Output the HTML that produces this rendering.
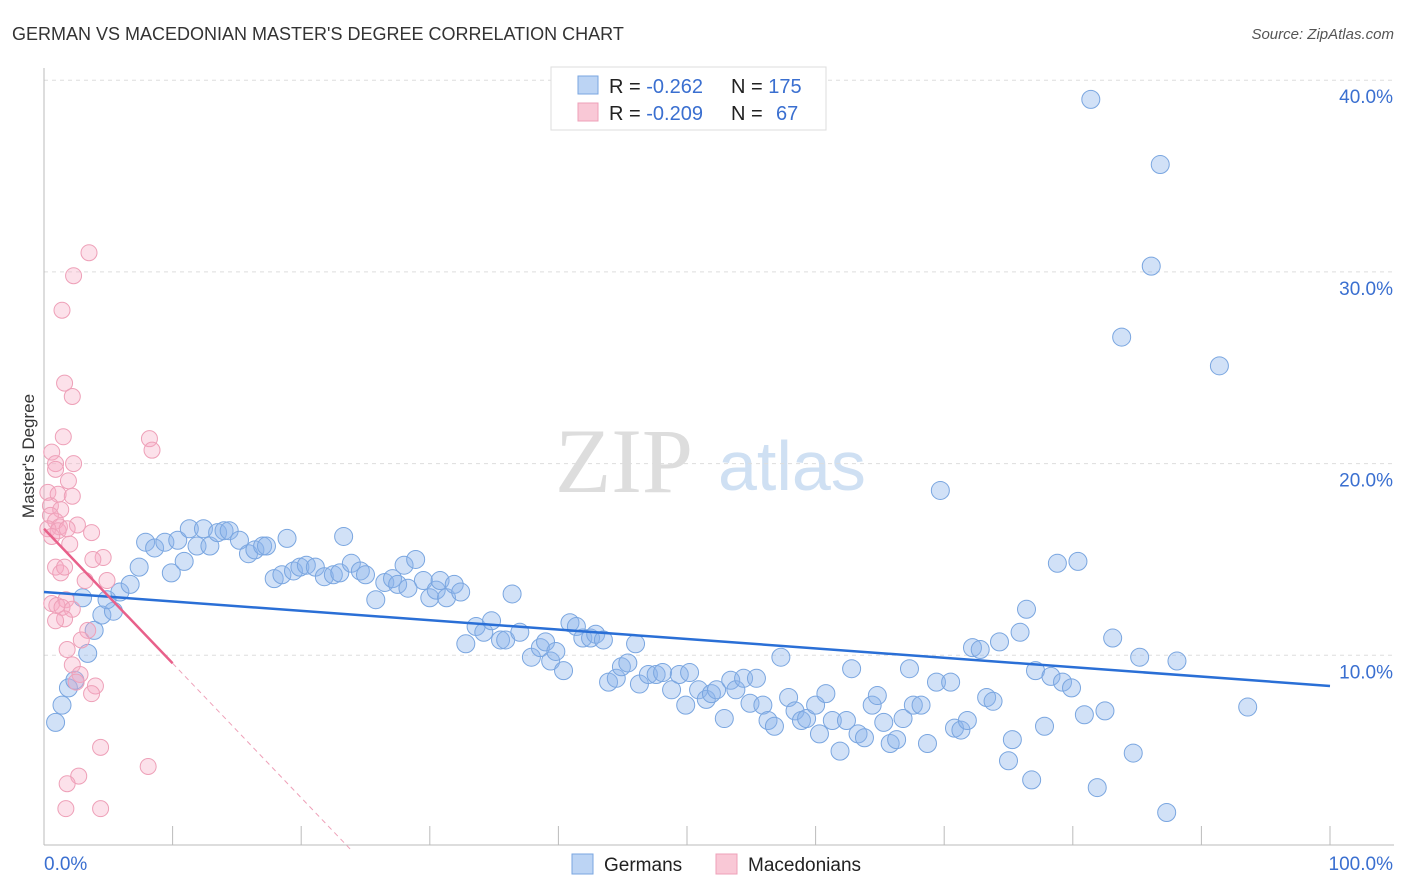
<!DOCTYPE html>
<html><head><meta charset="utf-8">
<style>
body{margin:0;background:#fff;font-family:"Liberation Sans",sans-serif;}
svg{display:block}
</style></head>
<body>
<svg id="chart" width="1406" height="892">
<text x="12" y="40" font-size="18" fill="#333">GERMAN VS MACEDONIAN MASTER'S DEGREE CORRELATION CHART</text>
<text x="1394" y="39" font-size="15" fill="#555" font-style="italic" text-anchor="end">Source: ZipAtlas.com</text>
<g>
<text x="555" y="492" font-size="92" font-family="Liberation Serif,serif" fill="#ddd">ZIP</text>
<text x="718" y="490" font-size="70" fill="#cfe0f3">atlas</text>
</g>
<g id="grid"></g>
<g id="axes"></g>
<text transform="translate(34,456) rotate(-90)" font-size="17" fill="#333" text-anchor="middle">Master's Degree</text>
<g id="pts"></g>
<g id="trend"></g>
<g>
<rect x="551" y="67" width="275" height="63" fill="#fff" stroke="#ddd"/>
<rect x="578" y="76" width="20" height="18" fill="#bcd4f4" stroke="#7aa6e0"/>
<rect x="578" y="103" width="20" height="18" fill="#f9c8d6" stroke="#eea0b8"/>
<text x="609" y="93" font-size="20" fill="#222">R = <tspan fill="#3a6fd0">-0.262</tspan><tspan x="731">N = </tspan><tspan fill="#3a6fd0">175</tspan></text>
<text x="609" y="120" font-size="20" fill="#222">R = <tspan fill="#3a6fd0">-0.209</tspan><tspan x="731">N = </tspan><tspan fill="#3a6fd0" x="776">67</tspan></text>
</g>
<g>
<rect x="572" y="854" width="21" height="20" fill="#bcd4f4" stroke="#7aa6e0"/>
<text x="604" y="871" font-size="19" fill="#222">Germans</text>
<rect x="716" y="854" width="21" height="20" fill="#f9c8d6" stroke="#eea0b8"/>
<text x="748" y="871" font-size="19" fill="#222">Macedonians</text>
</g>
</svg>
<script>
const xTicks=[0,10,20,30,40,50,60,70,80,90,100];
const yTicks=[10,20,30,40];
const yTickLabels=["10.0%","20.0%","30.0%","40.0%"];
const germansX=[81.4,86.8,86.1,83.8,91.4,69.7,0.9,1.4,1.9,2.4,3.4,3.9,4.5,5.4,3.0,4.9,5.9,6.7,7.4,7.9,8.6,9.4,9.9,10.4,10.9,11.3,11.9,12.4,12.9,13.5,14.0,14.4,15.2,15.9,16.4,17.0,17.3,18.9,17.9,18.5,19.4,19.9,20.4,21.1,21.8,22.5,23.0,23.3,23.9,24.6,25.0,25.8,26.5,27.1,27.5,28.0,28.3,28.9,29.5,30.0,30.5,30.8,31.3,31.9,32.4,32.8,33.6,34.2,34.8,35.5,35.9,36.4,37.0,37.9,38.6,39.0,39.4,39.8,40.4,40.9,41.4,41.9,42.5,42.9,43.5,43.9,44.5,44.9,45.4,46.0,46.3,47.0,47.6,48.1,48.8,49.4,49.9,50.2,50.9,51.5,51.9,52.3,52.9,53.4,53.8,54.4,54.9,55.4,55.9,56.3,56.8,57.3,57.9,58.4,58.9,59.3,60.0,60.3,60.8,61.3,61.9,62.4,62.8,63.3,63.8,64.4,64.8,65.3,65.8,66.3,66.8,67.3,67.6,68.2,68.7,69.4,70.5,70.8,71.3,71.8,72.2,72.8,73.3,73.8,74.3,75.0,75.3,75.9,76.4,76.8,77.1,77.8,78.3,78.8,79.2,79.9,80.4,80.9,81.9,82.5,83.1,84.7,85.2,87.3,88.1,93.6];
const germansY=[39.0,35.6,30.3,26.6,25.1,18.6,6.5,7.4,8.3,8.7,10.1,11.3,12.1,12.3,13.0,12.9,13.3,13.7,14.6,15.9,15.6,15.9,14.3,16.0,14.9,16.6,15.7,16.6,15.7,16.4,16.5,16.5,16.0,15.3,15.5,15.7,15.7,16.1,14.0,14.2,14.4,14.6,14.7,14.6,14.1,14.2,14.3,16.2,14.8,14.4,14.2,12.9,13.8,14.0,13.7,14.7,13.5,15.0,13.9,13.0,13.4,13.9,13.0,13.7,13.3,10.6,11.5,11.2,11.8,10.8,10.8,13.2,11.2,9.9,10.4,10.7,9.7,10.2,9.2,11.7,11.5,10.9,10.9,11.1,10.8,8.6,8.8,9.4,9.6,10.6,8.5,9.0,9.0,9.1,8.2,9.0,7.4,9.1,8.2,7.7,8.0,8.2,6.7,8.7,8.2,8.8,7.5,8.8,7.4,6.6,6.3,9.9,7.8,7.1,6.6,6.7,7.4,5.9,8.0,6.6,5.0,6.6,9.3,5.9,5.7,7.4,7.9,6.5,5.4,5.6,6.7,9.3,7.4,7.4,5.4,8.6,8.6,6.2,6.1,6.6,10.4,10.3,7.8,7.6,10.7,4.5,5.6,11.2,12.4,3.5,9.2,6.3,8.9,14.8,8.6,8.3,14.9,6.9,3.1,7.1,10.9,4.9,9.9,1.8,9.7,7.3];
const macedX=[3.5,2.3,1.4,1.6,2.2,1.5,8.2,8.4,0.6,2.3,0.9,0.9,1.9,0.3,1.1,2.2,0.5,1.3,0.5,0.9,1.2,2.6,0.3,1.1,1.8,3.7,0.6,2.0,4.6,3.8,0.9,1.3,1.6,4.9,3.2,1.7,0.6,1.0,1.4,2.2,1.6,0.9,3.4,2.9,1.8,2.2,2.8,2.5,4.0,3.7,4.4,8.1,2.7,1.8,1.7,4.4];
const macedY=[31.0,29.8,28.0,24.2,23.5,21.4,21.3,20.7,20.6,20.0,20.0,19.7,19.1,18.5,18.4,18.3,17.8,17.6,17.3,17.0,16.7,16.8,16.6,16.5,16.6,16.4,16.2,15.8,15.1,15.0,14.6,14.3,14.6,13.9,13.9,12.9,12.7,12.6,12.5,12.4,11.9,11.8,11.3,10.8,10.3,9.5,9.0,8.6,8.4,8.0,5.2,4.2,3.7,3.3,2.0,2.0];
const germanTrend=[13.3,8.4];
const macedTrend=[16.6,-0.1];
const macedSolidEnd=10;
const macedDashEnd=23.8;

const NS="http://www.w3.org/2000/svg";
const X=v=>44+v*12.86;
const Y=v=>847-v*19.17;
function mk(tag,attrs,parent){const e=document.createElementNS(NS,tag);for(const k in attrs)e.setAttribute(k,attrs[k]);parent.appendChild(e);return e;}
const grid=document.getElementById('grid'),axes=document.getElementById('axes'),pts=document.getElementById('pts'),trend=document.getElementById('trend');
yTicks.forEach((t,i)=>{
  const l=mk('line',{x1:44,x2:1394,y1:Y(t),y2:Y(t),stroke:'#ddd','stroke-dasharray':'4,4'},grid);
  
  
  const tx=mk('text',{x:1393,y:Y(t)+23,'font-size':19,fill:'#3a6fd0','text-anchor':'end'},axes);
  tx.textContent=yTickLabels[i];
  
  
});
const ya=mk('line',{x1:44,x2:44,y1:68,y2:845,stroke:'#bbb'},axes);


const xa=mk('line',{x1:44,x2:1394,y1:845,y2:845,stroke:'#bbb'},axes);


xTicks.forEach(t=>{
  const l=mk('line',{x1:X(t),x2:X(t),y1:826,y2:845,stroke:'#bbb'},axes);
  
  
});
const xl0=mk('text',{x:44,y:870,'font-size':19,fill:'#3a6fd0'},axes);xl0.textContent='0.0%';


const xl1=mk('text',{x:1393,y:870,'font-size':19,fill:'#3a6fd0','text-anchor':'end'},axes);xl1.textContent='100.0%';


germansX.forEach((x,i)=>{
  const c=mk('circle',{cx:X(x),cy:Y(germansY[i]),r:9,fill:'rgba(140,180,235,0.4)',stroke:'#7aa6e0','stroke-width':1},pts);
  
  
});
macedX.forEach((x,i)=>{
  const c=mk('circle',{cx:X(x),cy:Y(macedY[i]),r:8,fill:'rgba(245,170,195,0.35)',stroke:'#eea0b8','stroke-width':1},pts);
  
  
});
const gl=mk('line',{x1:X(0),y1:Y(germanTrend[0]),x2:X(100),y2:Y(germanTrend[1]),stroke:'#2a6fd6','stroke-width':2.5},trend);


const ms=v=>macedTrend[0]+(macedTrend[1]-macedTrend[0])*v/macedDashEnd;
const ml=mk('line',{x1:X(0),y1:Y(macedTrend[0]),x2:X(macedSolidEnd),y2:Y(ms(macedSolidEnd)),stroke:'#e8608a','stroke-width':2.5},trend);


const md=mk('line',{x1:X(macedSolidEnd),y1:Y(ms(macedSolidEnd)),x2:X(macedDashEnd),y2:Y(macedTrend[1]),stroke:'#eea0b8','stroke-width':1,'stroke-dasharray':'5,4'},trend);


</script>
</body></html>
